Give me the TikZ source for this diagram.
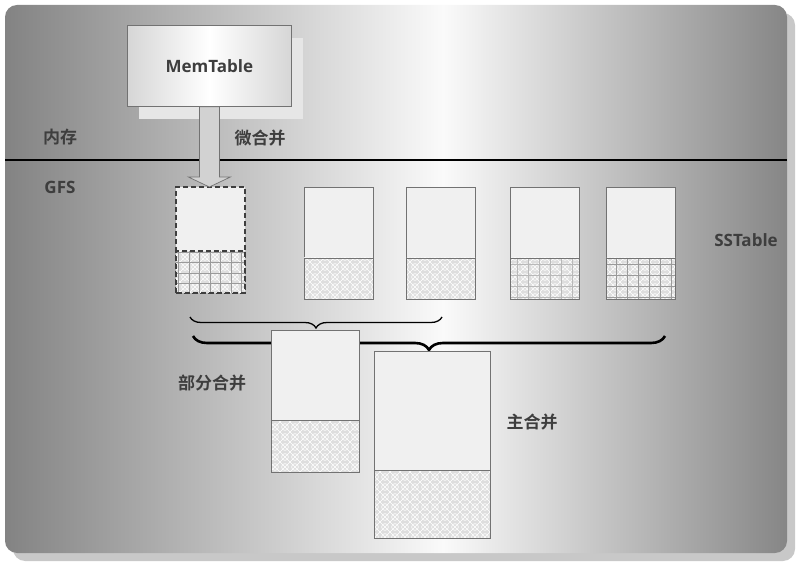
\documentclass[tikz,border=0pt]{standalone}
\usepackage{fontspec}
\setmainfont{Open Sans}
\newfontfamily\cjk{Noto Sans CJK SC}[BoldFont={Noto Sans CJK SC Bold}]
\usetikzlibrary{positioning, calc, patterns.meta, decorations.pathreplacing, shadows}

\definecolor{bgleft}{HTML}{838383}
\definecolor{bgmid}{HTML}{FAFAFA}
\definecolor{bgright}{HTML}{868686}
\definecolor{panelshade}{HTML}{C8C8C8}
\definecolor{paper}{HTML}{F0F0F0}
\definecolor{patbase}{HTML}{DEDEDE}
\definecolor{edgegray}{HTML}{727272}
\definecolor{gridgray}{HTML}{9A9A9A}
\definecolor{inkgray}{HTML}{3E3E3E}
\definecolor{memside}{HTML}{D6D6D6}
\definecolor{memshade}{HTML}{E6E6E6}
\definecolor{arrowfill}{HTML}{D2D2D2}

\pgfdeclarehorizontalshading{panel}{100bp}{color(0bp)=(bgleft); color(25bp)=(bgleft); color(53bp)=(bgmid); color(75bp)=(bgright); color(100bp)=(bgright)}

\tikzdeclarepattern{
	name=lattice,
	type=uncolored,
	bottom left={(-.5pt,-.5pt)},
	top right={(10.5pt,10.5pt)},
	tile size={(10pt,10pt)},
	code={
		\draw[line width=.6pt] (5pt,5pt) circle (3.4pt);
		\draw[line width=.6pt] (0pt,0pt) -- (10pt,10pt) (0pt,10pt) -- (10pt,0pt);
	}
}

\tikzset{
	lbl/.style={text=inkgray, font=\fontsize{17}{19}\selectfont\bfseries},
	sstbox/.style={draw=edgegray, fill=paper, line width=.8pt, inner sep=0pt, outer sep=0pt, anchor=north west},
	lowpart/.style={draw=edgegray, line width=.8pt, preaction={fill=patbase}, pattern=lattice, pattern color=white},
	gridpart/.style={draw=gridgray, line width=.5pt},
	dashedge/.style={draw=inkgray, line width=1.1pt, dash pattern=on 5pt off 3pt},
	fatarrow/.style={draw=edgegray, fill=arrowfill, line width=.7pt, line join=miter},
	brace/.style={decorate, decoration={brace, mirror, amplitude=#1}}
}

\begin{document}
\begin{tikzpicture}[x=1pt, y=-1pt]
	\useasboundingbox (0,0) rectangle (804,572);
	% panel
	\fill[panelshade, rounded corners=12pt] (13,13) rectangle (795,561);
	\shade[shading=panel, shading angle=0, rounded corners=12pt] (5,5) rectangle (787,553);
	\draw[line width=1.3pt] (5,160) -- (787,160);

	% memory side
	\node[draw=edgegray, line width=.8pt, minimum width=164, minimum height=81, anchor=north west, left color=memside, right color=memside, middle color=white, drop shadow={shadow xshift=12pt, shadow yshift=-13pt, fill=memshade, opacity=1}, lbl] (mem) at (127,25) {MemTable};
	\node[lbl] (mem label) at (60,137) {\cjk 内存};
	\node[lbl] (gfs label) at (60,187) {GFS};
	\node[lbl] (minor label) at (260,138) {\cjk 微合并};

	% sstables
	\node[sstbox, dashedge, minimum width=69, minimum height=106] (s1) at (176,187) {};
	\path[lowpart, draw=none] (s1.south west) rectangle ($(s1.north east)+(0,64)$);
	\draw[gridpart, step=10.5pt] (s1.south west) grid ($(s1.north east)+(0,64)$);
	\draw[dashedge] (s1.south west) rectangle ($(s1.north east)+(0,64)$);
	\foreach \name/\px in {s2/304, s3/406, s4/510, s5/606} {
		\node[sstbox, minimum width=69, minimum height=112] (\name) at (\px,187) {};
		\draw[lowpart] (\name.south west) rectangle ($(\name.north east)+(0,71)$);
	}
	\draw[gridpart, draw=gridgray!55!patbase, step=11pt] (s4.south west) grid ($(s4.north east)+(0,71)$);
	\draw[gridpart, step=11pt] (s5.south west) grid ($(s5.north east)+(0,71)$);
	\draw[edgegray, line width=.8pt] (s4.south west) rectangle ($(s4.north east)+(0,71)$);
	\draw[edgegray, line width=.8pt] (s5.south west) rectangle ($(s5.north east)+(0,71)$);
	\node[lbl] (sst label) at (746,240) {SSTable};

	% minor compaction arrow
	\coordinate (tip) at (mem.south |- s1.north);
	\draw[fatarrow] ($(mem.south)+(-10,0)$) -- ($(tip)+(-10,-10)$) -- ($(tip)+(-21,-10)$) -- (tip) -- ($(tip)+(21,-10)$) -- ($(tip)+(10,-10)$) -- ($(mem.south)+(10,0)$) -- cycle;

	% braces
	\coordinate (b1l) at (190,317);
	\coordinate (b1r) at (442,317);
	\coordinate (b2l) at (193,336);
	\coordinate (b2r) at (665,336);
	\draw[brace=11pt, line width=1.3pt] (b1l) -- (b1r);
	\draw[brace=14pt, line width=2.6pt] (b2l) -- (b2r);

	% merged tables
	\node[sstbox, minimum width=88, minimum height=142] (pm) at (271,330) {};
	\draw[lowpart] (pm.south west) rectangle ($(pm.north east)+(0,90)$);
	\node[sstbox, minimum width=116, minimum height=187] (mm) at (374,351) {};
	\draw[lowpart] (mm.south west) rectangle ($(mm.north east)+(0,119)$);
	\node[lbl] (partial label) at (212,383) {\cjk 部分合并};
	\node[lbl] (major label) at (532,422) {\cjk 主合并};
\end{tikzpicture}
\end{document}
